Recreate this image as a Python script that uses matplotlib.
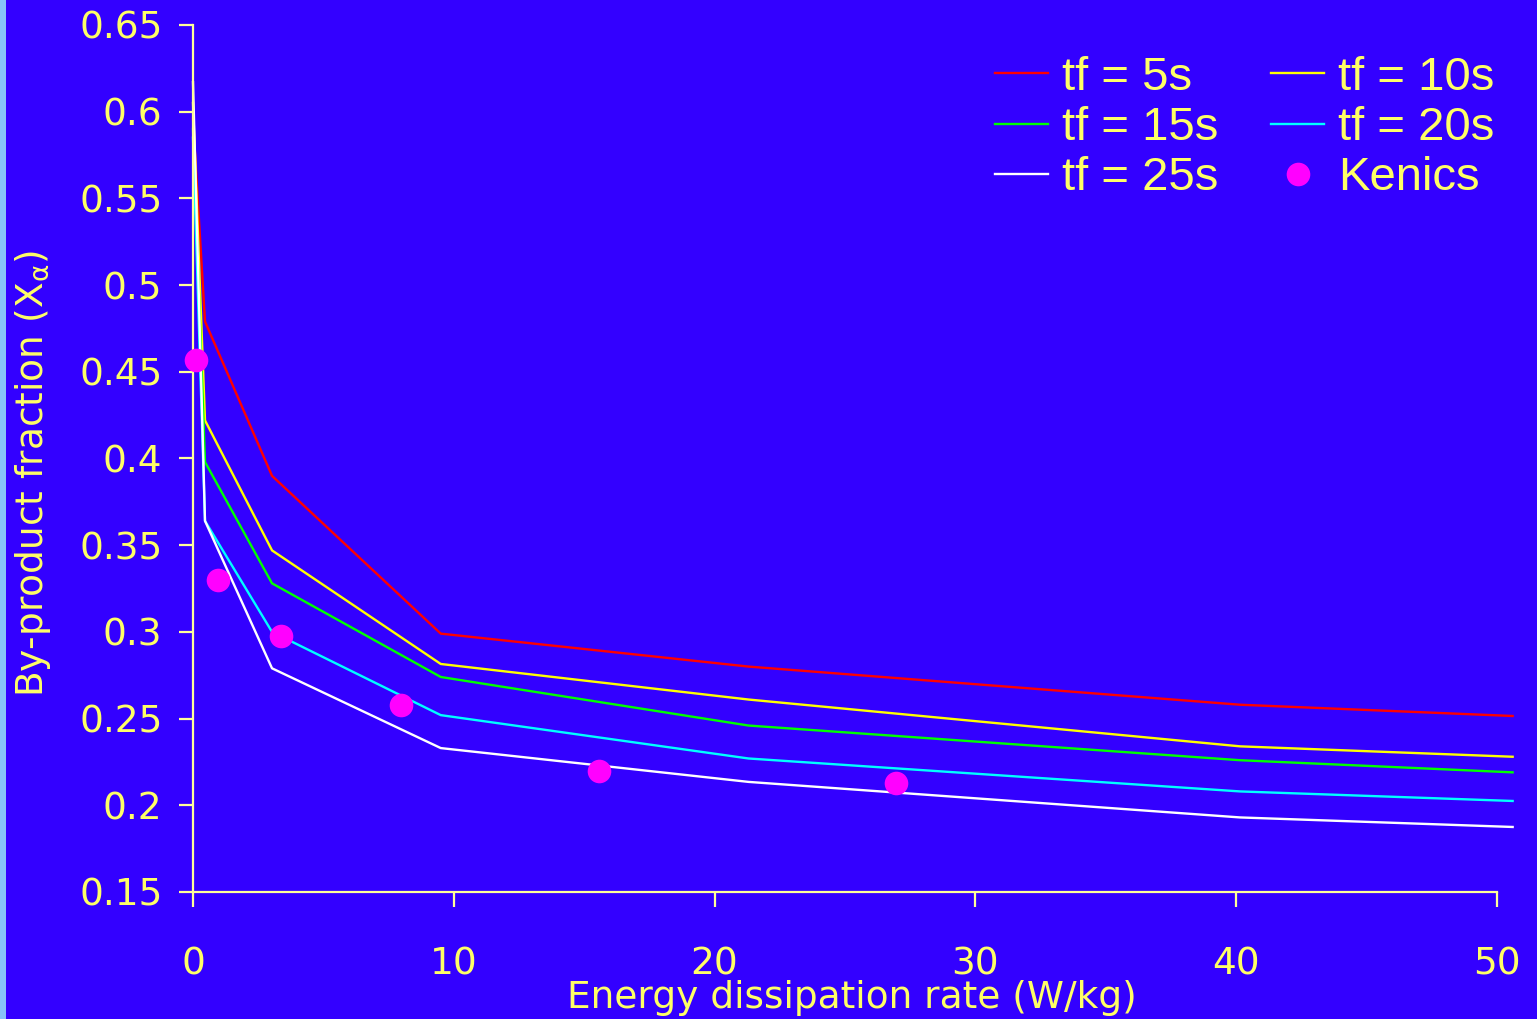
import matplotlib.pyplot as plt
from matplotlib.patches import Rectangle

# energy dissipation rate (W/kg) at the model points
energy = [0.0, 0.46, 3.03, 9.5, 21.3, 40.15, 50.6]

tf5 = [0.596, 0.479, 0.390, 0.299, 0.280, 0.258, 0.2515]
tf10 = [0.605, 0.422, 0.347, 0.2815, 0.261, 0.234, 0.228]
tf15 = [0.590, 0.398, 0.328, 0.274, 0.246, 0.226, 0.219]
tf20 = [0.585, 0.364, 0.300, 0.252, 0.227, 0.208, 0.2025]
tf25 = [0.617, 0.364, 0.279, 0.233, 0.2135, 0.193, 0.1875]

# Kenics mixer measurements
kenics_x = [0.12, 0.96, 3.37, 7.98, 15.57, 26.96]
kenics_y = [0.457, 0.330, 0.2976, 0.258, 0.2198, 0.2129]

series_labels = ['tf = 5s', 'tf = 10s', 'tf = 15s', 'tf = 20s', 'tf = 25s']
series_colors = ['#ff0000', '#ffff00', '#00ff00', '#00ffff', '#ffffff']

xticks = [0, 10, 20, 30, 40, 50]
yticks = [0.15, 0.2, 0.25, 0.3, 0.35, 0.4, 0.45, 0.5, 0.55, 0.6, 0.65]
ytick_labels = ['0.15', '0.2', '0.25', '0.3', '0.35', '0.4', '0.45',
                '0.5', '0.55', '0.6', '0.65']

bg = '#3300ff'
txt = '#ffff66'
spine = '#ffff99'
W, H = 1537, 1019

fig = plt.figure(figsize=(W / 100, H / 100), dpi=100, facecolor=bg)
fig.patches.append(Rectangle((0, 0), 6 / W, 1, transform=fig.transFigure,
                             facecolor='#88c4f8', edgecolor='none'))
ax = fig.add_axes([193 / W, 1 - 892 / H, 1304 / W, 867 / H])
ax.set_facecolor(bg)

handles = {}
for vals, lab, col in zip([tf5, tf10, tf15, tf20, tf25], series_labels, series_colors):
    h, = ax.plot(energy, vals, color=col, lw=1.7, clip_on=False, label=lab)
    handles[lab] = h
pts, = ax.plot(kenics_x, kenics_y, 'o', color='#ff00ff', ms=17, mec='none',
               clip_on=False, label='Kenics', zorder=5)

ax.set_xlim(0, 50)
ax.set_ylim(0.15, 0.65)
ax.set_xticks(xticks)
ax.set_xticklabels([str(v) for v in xticks])
ax.set_yticks(yticks)
ax.set_yticklabels(ytick_labels)

for s in ['top', 'right']:
    ax.spines[s].set_visible(False)
for s in ['left', 'bottom']:
    ax.spines[s].set_color(spine)
    ax.spines[s].set_linewidth(1.6)

ax.tick_params(axis='y', direction='out', length=10, width=1.6, color=spine,
               labelcolor=txt, labelsize=27, pad=12)
ax.tick_params(axis='x', direction='out', length=11, width=1.6, color=spine,
               labelcolor=txt, labelsize=27, pad=28)

ax.set_xlabel('Energy dissipation rate (W/kg)', color=txt, fontsize=27)
ax.xaxis.set_label_coords((852 - 193) / 1304, (892 - 980) / 867)
ax.set_ylabel(r'By-product fraction (X$_\mathregular{α}$)', color=txt, fontsize=27)
ax.yaxis.set_label_coords((53 - 193) / 1304, (892 - 474) / 867)

order = [handles['tf = 5s'], handles['tf = 15s'], handles['tf = 25s'],
         handles['tf = 10s'], handles['tf = 20s'], pts]
leg = fig.legend(handles=order, ncol=2, frameon=False, loc='upper left',
                 bbox_to_anchor=(995 / W, 1 - 56 / H), bbox_transform=fig.transFigure,
                 prop={'family': 'Liberation Sans', 'size': 34},
                 handlelength=1.12, handletextpad=0.3, columnspacing=1.12,
                 labelspacing=0.13, borderpad=0, borderaxespad=0)
for t in leg.get_texts():
    t.set_color(txt)

fig.savefig('out.png', dpi=100, facecolor=bg)
